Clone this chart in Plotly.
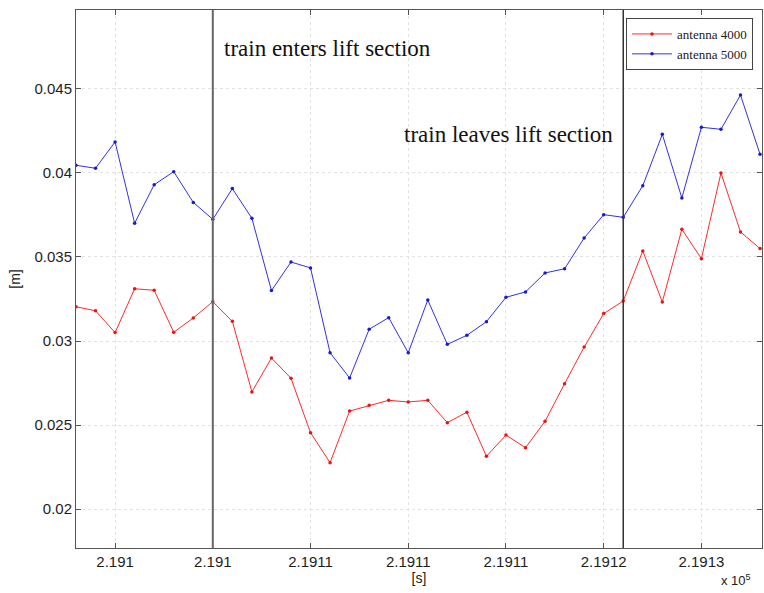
import plotly.graph_objects as go

# time stamps in seconds, one sample per second
t_start = 219093
n_samples = 36
time_s = [t_start + i for i in range(n_samples)]

antenna_4000 = [0.03204, 0.0318, 0.0305, 0.03311, 0.03302, 0.03052, 0.03137, 0.03234,
                0.03117, 0.02697, 0.02899, 0.02778, 0.02454, 0.02276, 0.02583, 0.02617,
                0.02647, 0.02637, 0.02647, 0.02514, 0.02576, 0.02314, 0.0244, 0.02365,
                0.02522, 0.02746, 0.02964, 0.03163, 0.03238, 0.03536, 0.03232, 0.03665,
                0.0349, 0.0400, 0.03649, 0.0355]

antenna_5000 = [0.04046, 0.04028, 0.04185, 0.03701, 0.03930, 0.04008, 0.03825, 0.03724,
                0.03907, 0.03730, 0.0330, 0.0347, 0.03435, 0.0293, 0.0278, 0.0307,
                0.03139, 0.0293, 0.03244, 0.0298, 0.03034, 0.03115, 0.0326, 0.03292,
                0.03405, 0.0343, 0.03613, 0.03752, 0.03736, 0.03924, 0.0423, 0.03851,
                0.04272, 0.0426, 0.04464, 0.04111]

x_tick_vals = [219095, 219100, 219105, 219110, 219115, 219120, 219125]
x_tick_text = ["2.191", "2.191", "2.1911", "2.1911", "2.1911", "2.1912", "2.1913"]
y_tick_vals = [0.02, 0.025, 0.03, 0.035, 0.04, 0.045]
y_tick_text = ["0.02", "0.025", "0.03", "0.035", "0.04", "0.045"]

t_enter = 219100
t_leave = 219121

sans = "Liberation Sans, Arial, sans-serif"
serif = "Liberation Serif, Times New Roman, serif"

fig = go.Figure()
fig.add_trace(go.Scatter(x=time_s, y=antenna_4000, mode="lines+markers", name="antenna 4000",
                         line=dict(color="#ff2a2a", width=1), marker=dict(size=3.5, color="#ee1111")))
fig.add_trace(go.Scatter(x=time_s, y=antenna_5000, mode="lines+markers", name="antenna 5000",
                         line=dict(color="#3030ee", width=1), marker=dict(size=3.5, color="#1a1acc")))

# section boundaries
fig.add_vline(x=t_enter, line=dict(color="#666666", width=2))
fig.add_vline(x=t_leave, line=dict(color="#333333", width=1.5))

fig.add_annotation(x=(222 - 76) / 686, y=(548 - 49) / 538, xref="paper", yref="paper",
                   text="train enters lift section", showarrow=False, xanchor="left", yanchor="middle",
                   font=dict(family=serif, size=23, color="#111111"))
fig.add_annotation(x=(402 - 76) / 686, y=(548 - 134) / 538, xref="paper", yref="paper",
                   text="train leaves lift section", showarrow=False, xanchor="left", yanchor="middle",
                   font=dict(family=serif, size=23, color="#111111"))
fig.add_annotation(x=(753 - 76) / 686, y=(548 - 590) / 538, xref="paper", yref="paper",
                   text="x 10<sup>5</sup>", showarrow=False, xanchor="right", yanchor="bottom",
                   font=dict(family=sans, size=13, color="#222222"))

axis_common = dict(showline=True, linecolor="#555555", linewidth=1, mirror="ticks",
                   ticks="inside", ticklen=5, tickcolor="#555555",
                   showgrid=True, gridcolor="#e2e2e2", griddash="dot", gridwidth=1,
                   zeroline=False,
                   tickfont=dict(family=sans, size=15, color="#1e1e1e"))

fig.update_xaxes(range=[219093, 219128.1], tickvals=x_tick_vals, ticktext=x_tick_text,
                 title=dict(text="[s]", standoff=2, font=dict(family=sans, size=14, color="#222222")),
                 **axis_common)
fig.update_yaxes(range=[0.01768, 0.0497], tickvals=y_tick_vals, ticktext=y_tick_text,
                 title=dict(text="[m]", standoff=10, font=dict(family=sans, size=14, color="#222222")),
                 **axis_common)

fig.update_layout(
    width=764, height=593,
    margin=dict(l=76, r=2, t=10, b=45),
    plot_bgcolor="white", paper_bgcolor="white",
    showlegend=True,
    legend=dict(x=(753 - 76) / 686, y=(548 - 18) / 538, xanchor="right", yanchor="top",
                bgcolor="white", bordercolor="#444444", borderwidth=1,
                font=dict(family=serif, size=13, color="#222222"),
                tracegroupgap=0, itemwidth=40),
)

fig.write_html("out.html")
